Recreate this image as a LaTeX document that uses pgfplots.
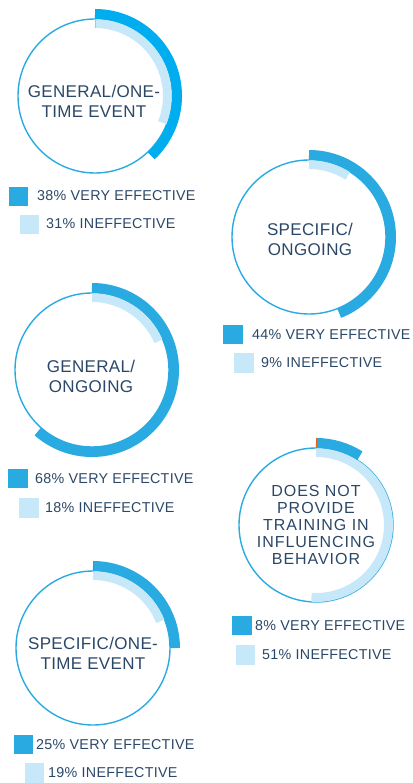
\documentclass[border=0pt]{standalone}
\usepackage{fontspec}
\setmainfont{Liberation Sans}
\newfontfamily\lgfont[LetterSpace=2]{Liberation Sans}
\newfontfamily\rgfont[LetterSpace=2]{Liberation Sans}
\newfontfamily\rgfontb[LetterSpace=6]{Liberation Sans}
\usepackage{pgfplots}
\usepackage{pgfplotstable}
\pgfplotsset{compat=1.18}
\definecolor{dk}{HTML}{29ABE2}
\definecolor{dkA}{HTML}{00AEEF}
\definecolor{lt}{HTML}{C7E8F8}
\definecolor{txt}{HTML}{2B4768}
\definecolor{tyel}{HTML}{E8D000}
\definecolor{torg}{HTML}{E8601C}

% ring centres (px), drawn arc of very effective (%), ineffective (%), colour flag, start tick
\pgfplotstableread{
x y ve ine cf tk
95 96 38 31 1 1
309 237 44 9 0 0
92 370 61.5 18.5 0 0
316 525 9 51 0 2
93 648 25 19 0 2
}\rings

\pgfplotstableread{
x y
18 196
232.5 334
17.5 478
241.5 625
23 744
}\dksq

\pgfplotstableread{
x y
29 224
243.5 362.5
28.5 507.5
245 654.5
34 772.5
}\ltsq

\newcommand\ringmark{%
  \draw[dk, line width=1.4pt] (0,0) circle[radius=77pt];
  \draw[lt, line width=9pt] (90:72.5pt) arc[start angle=90, delta angle=-3.6*\myine, radius=72.5pt];
  \ifdim\mycf pt>0.5pt \def\dcol{dkA}\else\def\dcol{dk}\fi
  \draw[\dcol, line width=10pt] (90:82pt) arc[start angle=90, delta angle=-3.6*\myve, radius=82pt];
  \ifdim\mytk pt>0.5pt
    \ifdim\mytk pt<1.5pt
      \draw[tyel, line width=0.8pt] (0,68pt)--(0,77pt);
    \else
      \draw[torg, line width=0.8pt] (0,77pt)--(0,87pt);
    \fi
  \fi
}

\begin{document}
\begin{tikzpicture}
\begin{axis}[x=1pt, y=1pt, y dir=reverse,
  xmin=0, xmax=412, ymin=0, ymax=783,
  scale only axis, axis lines=none, clip=false]
\addplot[scatter, only marks, mark=*, mark size=0pt,
  visualization depends on={\thisrow{ve}\as\myve},
  visualization depends on={\thisrow{ine}\as\myine},
  visualization depends on={\thisrow{cf}\as\mycf},
  visualization depends on={\thisrow{tk}\as\mytk},
  scatter/@pre marker code/.code={\ringmark},
  scatter/@post marker code/.code={}]
  table[x=x, y=y] {\rings};
\addplot[only marks, mark=square*, mark size=9.25pt,
  mark options={fill=dk, draw=dk, line width=0.1pt}] table[x=x,y=y] {\dksq};
\addplot[only marks, mark=square*, mark size=9.25pt,
  mark options={fill=lt, draw=lt, line width=0.1pt}] table[x=x,y=y] {\ltsq};

% ring labels
\begin{scope}[every node/.style={text=txt, inner sep=0pt, align=center}]
\node[font=\rgfont\fontsize{17}{20}\selectfont] at (axis cs:94,101.5) {GENERAL/ONE-\\TIME EVENT};
\node[font=\rgfont\fontsize{17}{20}\selectfont] at (axis cs:310,239) {SPECIFIC/\\ONGOING};
\node[font=\rgfont\fontsize{17}{20}\selectfont] at (axis cs:91,376) {GENERAL/\\ONGOING};
\node[font=\rgfontb\fontsize{16}{17}\selectfont] at (axis cs:316,525) {DOES NOT\\PROVIDE\\TRAINING IN\\INFLUENCING\\BEHAVIOR};
\node[font=\rgfont\fontsize{17}{20}\selectfont] at (axis cs:93,653) {SPECIFIC/ONE-\\TIME EVENT};
\end{scope}

% legend texts
\begin{scope}[every node/.style={text=txt, inner sep=0pt, anchor=base west, font=\lgfont\fontsize{14.3}{16}\selectfont}]
\node at (axis cs:37,201) {38\% VERY EFFECTIVE};
\node at (axis cs:46,229) {31\% INEFFECTIVE};
\node at (axis cs:252,339) {44\% VERY EFFECTIVE};
\node at (axis cs:261,367) {9\% INEFFECTIVE};
\node at (axis cs:35,483) {68\% VERY EFFECTIVE};
\node at (axis cs:45,512) {18\% INEFFECTIVE};
\node at (axis cs:255,630) {8\% VERY EFFECTIVE};
\node at (axis cs:262,659) {51\% INEFFECTIVE};
\node at (axis cs:36,749) {25\% VERY EFFECTIVE};
\node at (axis cs:48,777) {19\% INEFFECTIVE};
\end{scope}
\coordinate (BBTL) at (axis cs:0,0);
\coordinate (BBBR) at (axis cs:412,783);
\end{axis}
\pgfresetboundingbox
\useasboundingbox (BBTL) rectangle (BBBR);
\end{tikzpicture}
\end{document}
